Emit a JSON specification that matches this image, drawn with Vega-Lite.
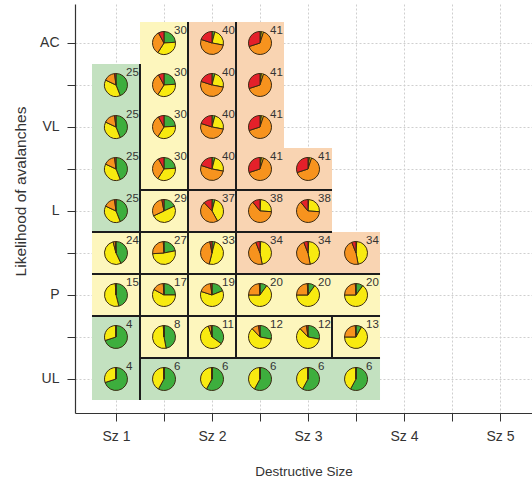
{
  "$schema": "https://vega.github.io/schema/vega-lite/v6.json",
  "autosize": "none",
  "padding": {"left": 75, "top": 4, "right": 0, "bottom": 67},
  "width": 457,
  "height": 409,
  "config": {
    "view": {"stroke": null},
    "font": "Liberation Sans",
    "axis": {
      "grid": true, "gridColor": "#cfcfcf", "gridDash": [2, 2], "gridWidth": 1,
      "domain": true, "domainColor": "#333", "domainWidth": 1.2, "ticks": true, "tickColor": "#333", "tickWidth": 1,
      "labelColor": "#333", "labelFontSize": 14, "labelOverlap": false, "labelFlush": false,
      "titleColor": "#333", "titleFontSize": 13.5, "titleFontWeight": "normal"
    },
    "axisX": {"values": [1, 1.5, 2, 2.5, 3, 3.5, 4, 4.5, 5], "labelExpr": "datum.value % 1 == 0 ? 'Sz ' + datum.value : ''", "tickSize": 8, "labelPadding": 8, "titlePadding": 21},
    "axisY": {"values": [1, 1.5, 2, 2.5, 3, 3.5, 4, 4.5, 5],
      "labelExpr": "datum.value == 1 ? 'UL' : datum.value == 2 ? 'P' : datum.value == 3 ? 'L' : datum.value == 4 ? 'VL' : datum.value == 5 ? 'AC' : ''",
      "tickSize": 8, "labelPadding": 8, "titlePadding": 11, "titleFontSize": 15.5, "titleY": 187}
  },
  "datasets": {
    "cells": [
      {"x": 1.5, "y": 5, "n": 30, "bg": "moderate"},
      {"x": 2, "y": 5, "n": 40, "bg": "considerable"},
      {"x": 2.5, "y": 5, "n": 41, "bg": "considerable"},
      {"x": 1, "y": 4.5, "n": 25, "bg": "low"},
      {"x": 1.5, "y": 4.5, "n": 30, "bg": "moderate"},
      {"x": 2, "y": 4.5, "n": 40, "bg": "considerable"},
      {"x": 2.5, "y": 4.5, "n": 41, "bg": "considerable"},
      {"x": 1, "y": 4, "n": 25, "bg": "low"},
      {"x": 1.5, "y": 4, "n": 30, "bg": "moderate"},
      {"x": 2, "y": 4, "n": 40, "bg": "considerable"},
      {"x": 2.5, "y": 4, "n": 41, "bg": "considerable"},
      {"x": 1, "y": 3.5, "n": 25, "bg": "low"},
      {"x": 1.5, "y": 3.5, "n": 30, "bg": "moderate"},
      {"x": 2, "y": 3.5, "n": 40, "bg": "considerable"},
      {"x": 2.5, "y": 3.5, "n": 41, "bg": "considerable"},
      {"x": 3, "y": 3.5, "n": 41, "bg": "considerable"},
      {"x": 1, "y": 3, "n": 25, "bg": "low"},
      {"x": 1.5, "y": 3, "n": 29, "bg": "moderate"},
      {"x": 2, "y": 3, "n": 37, "bg": "considerable"},
      {"x": 2.5, "y": 3, "n": 38, "bg": "considerable"},
      {"x": 3, "y": 3, "n": 38, "bg": "considerable"},
      {"x": 1, "y": 2.5, "n": 24, "bg": "moderate"},
      {"x": 1.5, "y": 2.5, "n": 27, "bg": "moderate"},
      {"x": 2, "y": 2.5, "n": 33, "bg": "moderate"},
      {"x": 2.5, "y": 2.5, "n": 34, "bg": "considerable"},
      {"x": 3, "y": 2.5, "n": 34, "bg": "considerable"},
      {"x": 3.5, "y": 2.5, "n": 34, "bg": "considerable"},
      {"x": 1, "y": 2, "n": 15, "bg": "moderate"},
      {"x": 1.5, "y": 2, "n": 17, "bg": "moderate"},
      {"x": 2, "y": 2, "n": 19, "bg": "moderate"},
      {"x": 2.5, "y": 2, "n": 20, "bg": "moderate"},
      {"x": 3, "y": 2, "n": 20, "bg": "moderate"},
      {"x": 3.5, "y": 2, "n": 20, "bg": "moderate"},
      {"x": 1, "y": 1.5, "n": 4, "bg": "low"},
      {"x": 1.5, "y": 1.5, "n": 8, "bg": "moderate"},
      {"x": 2, "y": 1.5, "n": 11, "bg": "moderate"},
      {"x": 2.5, "y": 1.5, "n": 12, "bg": "moderate"},
      {"x": 3, "y": 1.5, "n": 12, "bg": "moderate"},
      {"x": 3.5, "y": 1.5, "n": 13, "bg": "moderate"},
      {"x": 1, "y": 1, "n": 4, "bg": "low"},
      {"x": 1.5, "y": 1, "n": 6, "bg": "low"},
      {"x": 2, "y": 1, "n": 6, "bg": "low"},
      {"x": 2.5, "y": 1, "n": 6, "bg": "low"},
      {"x": 3, "y": 1, "n": 6, "bg": "low"},
      {"x": 3.5, "y": 1, "n": 6, "bg": "low"}
    ],
    "shares": [
      {"n": 4, "d1_low": 0.70, "d2_moderate": 0.30, "d3_considerable": 0, "d4_high": 0},
      {"n": 6, "d1_low": 0.58, "d2_moderate": 0.42, "d3_considerable": 0, "d4_high": 0},
      {"n": 8, "d1_low": 0.47, "d2_moderate": 0.52, "d3_considerable": 0.01, "d4_high": 0},
      {"n": 11, "d1_low": 0.35, "d2_moderate": 0.60, "d3_considerable": 0.04, "d4_high": 0.01},
      {"n": 12, "d1_low": 0.28, "d2_moderate": 0.60, "d3_considerable": 0.10, "d4_high": 0.02},
      {"n": 13, "d1_low": 0.08, "d2_moderate": 0.67, "d3_considerable": 0.24, "d4_high": 0.01},
      {"n": 15, "d1_low": 0.46, "d2_moderate": 0.53, "d3_considerable": 0.01, "d4_high": 0},
      {"n": 17, "d1_low": 0.25, "d2_moderate": 0.58, "d3_considerable": 0.16, "d4_high": 0.01},
      {"n": 19, "d1_low": 0.19, "d2_moderate": 0.61, "d3_considerable": 0.18, "d4_high": 0.02},
      {"n": 20, "d1_low": 0.10, "d2_moderate": 0.65, "d3_considerable": 0.24, "d4_high": 0.01},
      {"n": 24, "d1_low": 0.43, "d2_moderate": 0.53, "d3_considerable": 0.03, "d4_high": 0.01},
      {"n": 25, "d1_low": 0.44, "d2_moderate": 0.38, "d3_considerable": 0.16, "d4_high": 0.02},
      {"n": 27, "d1_low": 0.22, "d2_moderate": 0.52, "d3_considerable": 0.25, "d4_high": 0.01},
      {"n": 29, "d1_low": 0.18, "d2_moderate": 0.50, "d3_considerable": 0.29, "d4_high": 0.03},
      {"n": 30, "d1_low": 0.24, "d2_moderate": 0.35, "d3_considerable": 0.33, "d4_high": 0.08},
      {"n": 33, "d1_low": 0.04, "d2_moderate": 0.50, "d3_considerable": 0.43, "d4_high": 0.03},
      {"n": 34, "d1_low": 0.01, "d2_moderate": 0.46, "d3_considerable": 0.47, "d4_high": 0.06},
      {"n": 37, "d1_low": 0.04, "d2_moderate": 0.38, "d3_considerable": 0.46, "d4_high": 0.12},
      {"n": 38, "d1_low": 0.01, "d2_moderate": 0.25, "d3_considerable": 0.63, "d4_high": 0.11},
      {"n": 40, "d1_low": 0.04, "d2_moderate": 0.24, "d3_considerable": 0.52, "d4_high": 0.20},
      {"n": 41, "d1_low": 0.02, "d2_moderate": 0.03, "d3_considerable": 0.65, "d4_high": 0.30}
    ],
    "borders": [
      {"xa": 1.25, "ya": 0.75, "xb": 1.25, "yb": 4.75},
      {"xa": 1.75, "ya": 1.25, "xb": 1.75, "yb": 5.25},
      {"xa": 2.25, "ya": 1.25, "xb": 2.25, "yb": 5.25},
      {"xa": 3.25, "ya": 1.25, "xb": 3.25, "yb": 1.75},
      {"xa": 1.25, "ya": 3.25, "xb": 3.25, "yb": 3.25},
      {"xa": 0.75, "ya": 2.75, "xb": 3.25, "yb": 2.75},
      {"xa": 0.75, "ya": 2.25, "xb": 3.75, "yb": 2.25},
      {"xa": 0.75, "ya": 1.75, "xb": 3.75, "yb": 1.75},
      {"xa": 1.25, "ya": 1.25, "xb": 3.75, "yb": 1.25}
    ]
  },
  "resolve": {"scale": {"color": "independent"}},
  "layer": [
    {
      "data": {"name": "cells"},
      "transform": [
        {"bin": {"step": 0.5, "anchor": 0.75, "extent": [0.5, 5.5]}, "field": "x", "as": ["cx0", "cx1"]},
        {"bin": {"step": 0.5, "anchor": 0.75, "extent": [0.5, 5.5]}, "field": "y", "as": ["cy0", "cy1"]}
      ],
      "mark": {"type": "rect", "strokeWidth": 0},
      "encoding": {
        "x": {"field": "cx0", "type": "quantitative", "scale": {"domain": [0.573, 5.333], "nice": false, "zero": false}, "title": "Destructive Size"},
        "x2": {"field": "cx1"},
        "y": {"field": "cy0", "type": "quantitative", "scale": {"domain": [0.595, 5.464], "nice": false, "zero": false}, "title": "Likelihood of avalanches"},
        "y2": {"field": "cy1"},
        "color": {"field": "bg", "type": "nominal", "legend": null,
          "scale": {"domain": ["low", "moderate", "considerable"], "range": ["#c3e1c0", "#fdf6bd", "#f9d4b2"]}}
      }
    },
    {
      "data": {"name": "borders"},
      "mark": {"type": "rule", "color": "#1c1c1c", "strokeWidth": 2},
      "encoding": {
        "x": {"field": "xa", "type": "quantitative", "scale": {"domain": [0.573, 5.333], "nice": false, "zero": false}, "title": "Destructive Size"},
        "x2": {"field": "xb"},
        "y": {"field": "ya", "type": "quantitative", "scale": {"domain": [0.595, 5.464], "nice": false, "zero": false}, "title": "Likelihood of avalanches"},
        "y2": {"field": "yb"}
      }
    },
    {
      "mark": {"type": "rule", "color": "#333", "strokeWidth": 1.2},
      "encoding": {
        "y": {"datum": 5.464, "type": "quantitative", "scale": {"domain": [0.595, 5.464], "nice": false, "zero": false}, "title": "Likelihood of avalanches"}
      }
    },
    {
      "data": {"name": "cells"},
      "transform": [
        {"lookup": "n", "from": {"data": {"name": "shares"}, "key": "n", "fields": ["d1_low", "d2_moderate", "d3_considerable", "d4_high"]}},
        {"fold": ["d1_low", "d2_moderate", "d3_considerable", "d4_high"], "as": ["level", "share"]},
        {"stack": "share", "groupby": ["x", "y"], "sort": [{"field": "level", "order": "ascending"}], "offset": "normalize", "as": ["t0", "t1"]}
      ],
      "mark": {"type": "arc", "radius": 11.5, "stroke": "#3b2a12", "strokeWidth": 1},
      "encoding": {
        "x": {"field": "x", "type": "quantitative", "scale": {"domain": [0.573, 5.333], "nice": false, "zero": false}, "title": "Destructive Size"},
        "y": {"field": "y", "type": "quantitative", "scale": {"domain": [0.595, 5.464], "nice": false, "zero": false}, "title": "Likelihood of avalanches"},
        "theta": {"field": "t0", "type": "quantitative", "stack": null, "scale": {"domain": [0, 1], "range": [0, 6.283185307]}},
        "theta2": {"field": "t1"},
        "color": {"field": "level", "type": "nominal", "legend": null,
          "scale": {"domain": ["d1_low", "d2_moderate", "d3_considerable", "d4_high"], "range": ["#3dae3d", "#f8ea10", "#f7931e", "#e4202a"]}}
      }
    },
    {
      "data": {"name": "cells"},
      "mark": {"type": "text", "align": "left", "baseline": "middle", "dx": 10, "dy": -12, "fontSize": 11.5, "color": "#333"},
      "encoding": {
        "x": {"field": "x", "type": "quantitative", "scale": {"domain": [0.573, 5.333], "nice": false, "zero": false}, "title": "Destructive Size"},
        "y": {"field": "y", "type": "quantitative", "scale": {"domain": [0.595, 5.464], "nice": false, "zero": false}, "title": "Likelihood of avalanches"},
        "text": {"field": "n", "type": "quantitative"}
      }
    }
  ]
}
